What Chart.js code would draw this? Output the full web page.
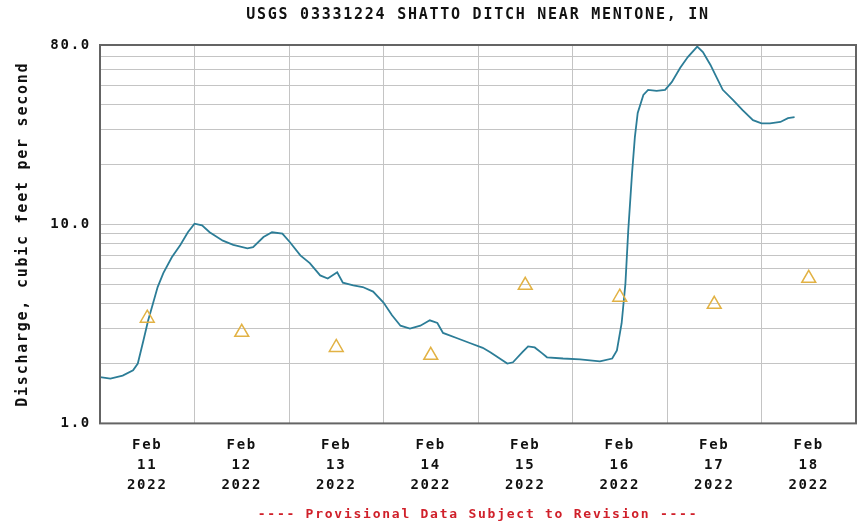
<!DOCTYPE html>
<html>
<head>
<meta charset="utf-8">
<script src="https://cdn.jsdelivr.net/npm/chart.js@4.4.1/dist/chart.umd.min.js"></script>
<style>
  html, body { margin: 0; padding: 0; background: #ffffff; }
  #wrap { width: 859px; height: 526px; }
</style>
</head>
<body>
<div id="wrap"><canvas id="chart" width="859" height="526"></canvas></div>
<script>
// Discharge record, days counted from Feb 11 2022 00:00
const flowDays = [
  0.00, 0.11, 0.24, 0.35, 0.40, 0.46, 0.51, 0.56, 0.61, 0.67, 0.76, 0.85, 0.93,
  1.00, 1.08, 1.16, 1.30, 1.41, 1.56, 1.62, 1.73, 1.82, 1.93,
  2.01, 2.12, 2.22, 2.33, 2.41, 2.51, 2.57, 2.68, 2.78, 2.89,
  3.00, 3.09, 3.18, 3.28, 3.39, 3.49, 3.57, 3.63, 3.78, 3.92,
  4.05, 4.13, 4.23, 4.31, 4.37, 4.47, 4.53, 4.60, 4.68, 4.73, 4.90,
  5.08, 5.29, 5.42, 5.47, 5.52, 5.56, 5.59, 5.63, 5.66, 5.69, 5.75, 5.80, 5.89, 5.98,
  6.05, 6.14, 6.22, 6.32, 6.38, 6.46, 6.53, 6.59, 6.70, 6.80, 6.91,
  7.00, 7.09, 7.20, 7.28, 7.35
];
const flowCfs = [
  1.71, 1.68, 1.74, 1.85, 2.00, 2.62, 3.30, 4.00, 4.85, 5.70, 6.85, 7.90, 9.15,
  10.1, 9.90, 9.15, 8.30, 7.90, 7.60, 7.70, 8.65, 9.15, 9.00,
  8.15, 7.00, 6.40, 5.55, 5.35, 5.75, 5.10, 4.95, 4.85, 4.60,
  4.05, 3.50, 3.10, 3.00, 3.10, 3.30, 3.20, 2.85, 2.68, 2.53,
  2.40, 2.28, 2.12, 2.00, 2.03, 2.28, 2.44, 2.41, 2.25, 2.15, 2.12,
  2.10, 2.05, 2.12, 2.33, 3.19, 5.05, 9.35, 18.1, 27.5, 36.4, 44.9, 47.6, 47.0, 47.6,
  52.0, 61.5, 69.6, 78.5, 73.7, 63.5, 54.3, 47.6, 42.2, 37.6, 33.5,
  32.3, 32.3, 32.8, 34.3, 34.7
];

// Daily median discharge markers (noon of each day)
const medianDays = [0.5, 1.5, 2.5, 3.5, 4.5, 5.5, 6.5, 7.5];
const medianCfs = [3.38, 2.87, 2.41, 2.20, 4.95, 4.31, 3.97, 5.37];

// Axis ticks
const xTickLabels = [
  ['Feb', '11', '2022'], ['Feb', '12', '2022'], ['Feb', '13', '2022'], ['Feb', '14', '2022'],
  ['Feb', '15', '2022'], ['Feb', '16', '2022'], ['Feb', '17', '2022'], ['Feb', '18', '2022']
];
const yGridValues = [1, 2, 3, 4, 5, 6, 7, 8, 9, 10, 20, 30, 40, 50, 60, 70, 80];
const yTickLabels = [1, 10, 80];

const MONO = '"DejaVu Sans Mono", "Liberation Mono", monospace';
const SPACING = '1.75px';

const flowPoints = flowDays.map((d, i) => ({ x: d, y: flowCfs[i] }));
const medianPoints = medianDays.map((d, i) => ({ x: d, y: medianCfs[i] }));

// white page, widened letter spacing, headings centred over the plot, plot frame
const pagePlugin = {
  id: 'page',
  beforeUpdate(chart) { chart.ctx.letterSpacing = SPACING; },
  beforeLayout(chart) { chart.ctx.letterSpacing = SPACING; },
  afterLayout(chart) {
    const area = chart.chartArea;
    chart.boxes.forEach(b => {
      if (!b.id && (b.position === 'top' || b.position === 'bottom')) {
        b.left = area.left;
        b.right = area.right;
        b.width = area.right - area.left;
      }
    });
  },
  beforeDraw(chart) {
    const ctx = chart.ctx;
    ctx.letterSpacing = SPACING;
    ctx.save();
    ctx.fillStyle = '#ffffff';
    ctx.fillRect(0, 0, chart.width, chart.height);
    ctx.restore();
  },
  afterDraw(chart) {
    const { left, top, right, bottom } = chart.chartArea;
    const ctx = chart.ctx;
    ctx.save();
    ctx.strokeStyle = '#646464';
    ctx.lineWidth = 2;
    ctx.strokeRect(left, top, right - left, bottom - top);
    ctx.restore();
  }
};

new Chart(document.getElementById('chart'), {
  type: 'line',
  data: {
    datasets: [
      {
        label: 'Discharge',
        data: flowPoints,
        borderColor: '#2c7d97',
        borderWidth: 1.8,
        pointRadius: 0,
        tension: 0,
        fill: false,
        order: 2
      },
      {
        label: 'Median daily statistic',
        data: medianPoints,
        showLine: false,
        pointStyle: 'triangle',
        pointRadius: 8,
        pointBorderWidth: 1.5,
        pointBorderColor: '#e2b244',
        pointBackgroundColor: 'rgba(255,255,255,0)',
        order: 1
      }
    ]
  },
  options: {
    responsive: false,
    animation: false,
    layout: { autoPadding: false, padding: { left: 0, right: 3, top: 0, bottom: 0 } },
    plugins: {
      legend: { display: false },
      tooltip: { enabled: false },
      title: {
        display: true,
        text: 'USGS 03331224 SHATTO DITCH NEAR MENTONE, IN',
        color: '#111111',
        font: { family: MONO, size: 15, weight: 'bold' },
        padding: { top: 6, bottom: 21 }
      },
      subtitle: {
        display: true,
        position: 'bottom',
        text: '---- Provisional Data Subject to Revision ----',
        color: '#d0202a',
        font: { family: MONO, size: 13, weight: 'bold' },
        padding: { top: 4, bottom: 4 }
      }
    },
    scales: {
      x: {
        type: 'linear',
        min: 0,
        max: 8,
        afterBuildTicks(scale) {
          const t = [];
          for (let i = 0; i <= 16; i++) t.push({ value: i / 2 });
          scale.ticks = t;
        },
        afterFit(scale) {
          scale.height = 79;
          scale.paddingLeft = 0;
          scale.paddingRight = 0;
        },
        grid: {
          color: (c) => (c.tick && Number.isInteger(c.tick.value)) ? '#c4c4c4' : 'rgba(0,0,0,0)',
          lineWidth: 1,
          drawTicks: false
        },
        border: { display: false },
        ticks: {
          autoSkip: false,
          maxRotation: 0,
          minRotation: 0,
          padding: 12,
          color: '#111111',
          font: { family: MONO, size: 14, weight: 'bold', lineHeight: 1.43 },
          callback(value) {
            if (Number.isInteger(value)) return '';
            return xTickLabels[Math.floor(value)] || '';
          }
        }
      },
      y: {
        type: 'logarithmic',
        min: 1,
        max: 80,
        afterBuildTicks(scale) {
          scale.ticks = yGridValues.map(v => ({ value: v }));
        },
        afterFit(scale) { scale.width = 100; },
        grid: {
          color: '#c4c4c4',
          lineWidth: 1,
          drawTicks: false
        },
        border: { display: false },
        title: {
          display: true,
          text: 'Discharge, cubic feet per second',
          color: '#111111',
          font: { family: MONO, size: 15, weight: 'bold' },
          padding: { top: 14, bottom: 0 }
        },
        ticks: {
          autoSkip: false,
          padding: 9,
          color: '#111111',
          font: { family: MONO, size: 14, weight: 'bold' },
          callback(value) {
            return yTickLabels.includes(value) ? value.toFixed(1) : '';
          }
        }
      }
    }
  },
  plugins: [pagePlugin]
});
</script>
</body>
</html>
